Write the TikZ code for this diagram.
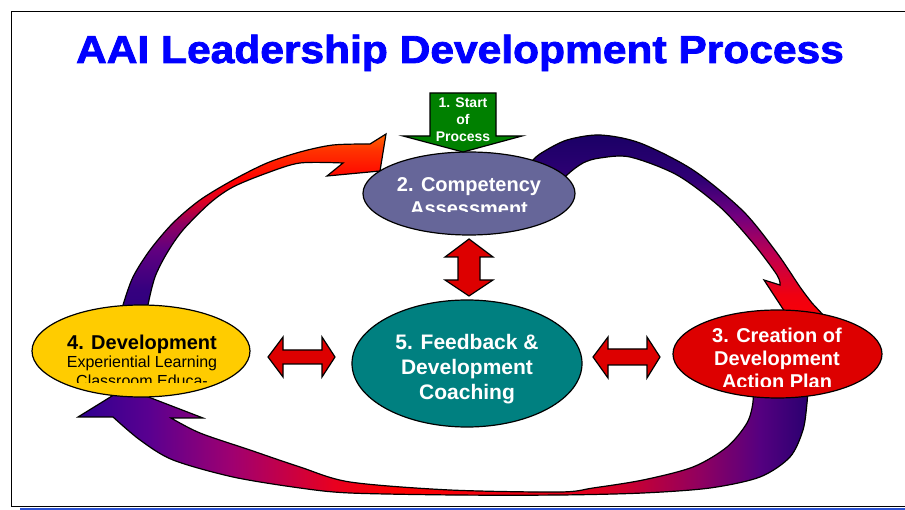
\documentclass[tikz,border=0pt]{standalone}
\usepackage{fontspec}
\setmainfont{Liberation Sans}
\newfontface\titlefont[FakeBold=2]{Liberation Sans Bold}
\usetikzlibrary{shapes.geometric}
\definecolor{titleblue}{HTML}{0000FF}
\definecolor{compc}{HTML}{666699}
\definecolor{devc}{HTML}{FFCC00}
\definecolor{feedc}{HTML}{008080}
\definecolor{creac}{HTML}{DD0000}
\definecolor{startc}{HTML}{008000}
\definecolor{barblue}{HTML}{2A50D0}
% left-top arrow colours
\definecolor{lA}{HTML}{2E0080}
\definecolor{lB}{HTML}{35007F}
\definecolor{lC}{HTML}{600080}
\definecolor{lD}{HTML}{900060}
\definecolor{lE}{HTML}{E00020}
\definecolor{lF}{HTML}{FF0000}
\definecolor{lG}{HTML}{FF3300}
\definecolor{lH}{HTML}{FF6600}
% right-top arrow colours
\definecolor{rA}{HTML}{FF0000}
\definecolor{rB}{HTML}{F00010}
\definecolor{rC}{HTML}{C00050}
\definecolor{rD}{HTML}{700080}
\definecolor{rE}{HTML}{300075}
\definecolor{rF}{HTML}{1A0066}
% bottom arrow colours
\definecolor{bA}{HTML}{2E0090}
\definecolor{bB}{HTML}{5A0090}
\definecolor{bC}{HTML}{A00070}
\definecolor{bD}{HTML}{E80020}
\definecolor{bE}{HTML}{FF0000}
\definecolor{bF}{HTML}{E00020}
\definecolor{bG}{HTML}{900060}
\definecolor{bH}{HTML}{550080}
\definecolor{bI}{HTML}{2A0070}
\pgfdeclareverticalshading{shLT}{100bp}{color(0bp)=(lA); color(25bp)=(lA); color(31.9bp)=(lB); color(43bp)=(lC); color(50.4bp)=(lD); color(56.8bp)=(lE); color(62.3bp)=(lF); color(70.6bp)=(lG); color(75bp)=(lH); color(100bp)=(lH)}
\pgfdeclareverticalshading{shRT}{100bp}{color(0bp)=(rA); color(25bp)=(rA); color(35bp)=(rB); color(45bp)=(rC); color(55bp)=(rD); color(63.75bp)=(rE); color(75bp)=(rF); color(100bp)=(rF)}
\pgfdeclarehorizontalshading{shBT}{100bp}{color(0bp)=(bA); color(25bp)=(bA); color(29.9bp)=(bB); color(35.6bp)=(bC); color(42.5bp)=(bD); color(47bp)=(bE); color(60.8bp)=(bF); color(67.6bp)=(bG); color(71.7bp)=(bH); color(75bp)=(bI); color(100bp)=(bI)}
\tikzset{
  ell/.style={ellipse, draw=black, line width=1.2pt, inner sep=0pt},
  outl/.style={draw=black, line width=1.2pt, line join=miter},
  wtxt/.style={text=white, font=\bfseries\fontsize{20}{24}\selectfont, anchor=base, inner sep=0pt},
  btxt/.style={text=black, anchor=base, inner sep=0pt},
}
\begin{document}
\begin{tikzpicture}[x=1pt,y=-1pt]
\useasboundingbox (0,0) rectangle (905,510);
\fill[white] (0,0) rectangle (905,510);
% frame
\draw[line width=1.6pt, black] (11.5,11.5) rectangle (918,506.3);
\fill[barblue] (20,507.6) rectangle (908,510.5);
% title
\node[anchor=base, inner sep=0pt, text=titleblue, font=\titlefont\fontsize{39}{44}\selectfont] (title) at (460,63) {\scalebox{1.09}[1]{AAI Leadership Development Process}};

% curved arrow: development -> competency (left top)
\shadedraw[shading=shLT, outl] plot[smooth] coordinates {(121,315) (123,305) (133,277) (150,250) (173,223) (200,200) (233,180) (267,163) (300,152) (333,145) (370,144)}
  -- (386,134) -- (380,171) -- (327,176) -- (343,163)
  -- plot[smooth] coordinates {(343,163) (300,163) (267,173) (233,187) (210,203) (183,230) (167,253) (155,277) (148,305) (148,315)} -- cycle;

% curved arrow: competency -> creation (right top)
\shadedraw[shading=shRT, outl] plot[smooth] coordinates {(525,172) (533,160) (543,152) (567,140) (600,135) (640,143) (693,170) (743,211) (777,253) (800,287) (812,303)}
  -- (826,318) -- (800,335) -- (764,280) -- (780,285)
  -- plot[smooth] coordinates {(780,285) (777,275) (753,243) (720,207) (677,175) (630,157) (600,158) (583,163) (567,175) (555,190)} -- cycle;

% curved arrow: creation -> development (bottom)
\shadedraw[shading=shBT, outl] plot[smooth] coordinates {(808,385) (807,403) (803,430) (790,457) (760,477) (710,488) (643,493) (560,495) (455,495) (350,493) (300,488) (233,477) (173,460) (140,440) (113,417)}
  -- (78,417) -- (125,388) -- (203,418) -- (171,418)
  -- plot[smooth] coordinates {(171,418) (200,433) (250,450) (300,467) (350,482) (450,490) (560,492) (593,488) (643,480) (693,467) (727,447) (747,423) (753,402) (752,385)} -- cycle;

% ellipses
\node[ell, fill=compc, minimum width=212pt, minimum height=83pt] (comp) at (469,193.5) {};
\node[ell, fill=devc, minimum width=218pt, minimum height=92pt] (dev) at (141,351) {};
\node[ell, fill=feedc, minimum width=230pt, minimum height=127pt] (feed) at (467,363.5) {};
\node[ell, fill=creac, minimum width=209pt, minimum height=88pt] (crea) at (777.5,354) {};

% start arrow
\draw[outl, fill=startc] (430,93) -- (496,93) -- (496,136) -- (522,136) -- (463,152) -- (403,136) -- (430,136) -- cycle;
\node[wtxt, font=\bfseries\fontsize{14}{17}\selectfont] (s1) at (463,108) {1. Start};
\node[wtxt, font=\bfseries\fontsize{14}{17}\selectfont] (s2) at (463,125) {of};
\node[wtxt, font=\bfseries\fontsize{14}{17}\selectfont] (s3) at (463,142) {Process};

% double arrows
\draw[outl, fill=creac] (469,239) -- (493,257) -- (480,257) -- (480,280) -- (493,280) -- (469,296) -- (445,280) -- (458,280) -- (458,257) -- (445,257) -- cycle;
\draw[outl, fill=creac] (268,357) -- (283,337) -- (283,350) -- (322,350) -- (322,337) -- (335,357) -- (322,377) -- (322,364) -- (283,364) -- (283,377) -- cycle;
\draw[outl, fill=creac] (593,357) -- (608,337) -- (608,349) -- (647,349) -- (647,337) -- (660,357) -- (647,378) -- (647,365) -- (608,365) -- (608,378) -- cycle;

% texts
\begin{scope}
  \clip (350,150) rectangle (590,212);
  \node[wtxt] (c1) at (469,192) {2. Competency};
  \node[wtxt] (c2) at (469,216) {Assessment};
\end{scope}
\begin{scope}
  \clip (30,300) rectangle (255,383);
  \node[btxt, font=\bfseries\fontsize{20}{24}\selectfont] (d1) at (142,350) {4. Development};
  \node[btxt, font=\fontsize{16}{19}\selectfont] (d2) at (142,368) {Experiential Learning};
  \node[btxt, font=\fontsize{16}{19}\selectfont] (d3) at (142,387) {Classroom Educa-};
\end{scope}
\node[wtxt, font=\bfseries\fontsize{21}{25}\selectfont] (f1) at (467,350) {5. Feedback \&};
\node[wtxt, font=\bfseries\fontsize{21}{25}\selectfont] (f2) at (467,375) {Development};
\node[wtxt, font=\bfseries\fontsize{21}{25}\selectfont] (f3) at (467,400) {Coaching};
\begin{scope}
  \clip (670,300) rectangle (890,387);
  \node[wtxt] (r1) at (777,343) {3. Creation of};
  \node[wtxt] (r2) at (777,366) {Development};
  \node[wtxt] (r3) at (777,389) {Action Plan};
\end{scope}
\end{tikzpicture}
\end{document}
